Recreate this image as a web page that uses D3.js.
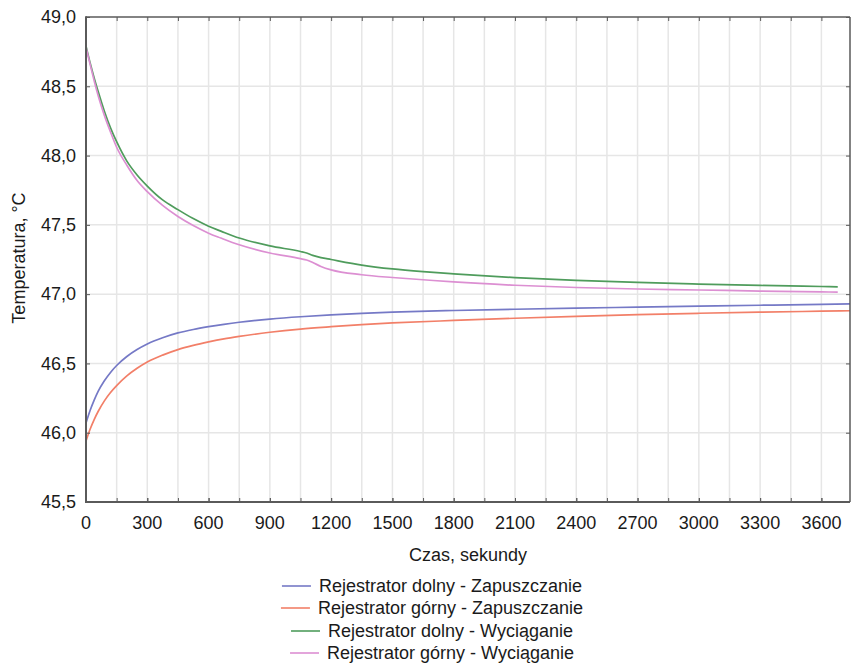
<!DOCTYPE html>
<html>
<head>
<meta charset="utf-8">
<script src="https://cdn.jsdelivr.net/npm/d3@7"></script>
<style>
  body { margin: 0; background: #fff; }
  text { font-family: "Liberation Sans", Arial, sans-serif; fill: #1a1a1a; }
</style>
</head>
<body>
<div id="chart"></div>
<script>
/* ---------- data ---------- */
const timeZap = [0, 20, 40, 60, 90, 120, 150, 200, 250, 300, 375, 450, 525, 600, 675, 750, 900, 1050, 1200, 1350, 1500, 1800, 2100, 2400, 2700, 3000, 3300, 3600, 3740];
const dolnyZap = [46.07, 46.16, 46.235, 46.30, 46.375, 46.435, 46.485, 46.55, 46.60, 46.64, 46.685, 46.72, 46.745, 46.765, 46.782, 46.797, 46.82, 46.837, 46.85, 46.861, 46.87, 46.882, 46.891, 46.899, 46.906, 46.913, 46.92, 46.926, 46.93];
const gornyZap = [45.94, 46.025, 46.095, 46.155, 46.23, 46.29, 46.34, 46.41, 46.465, 46.51, 46.56, 46.60, 46.63, 46.655, 46.677, 46.695, 46.725, 46.748, 46.765, 46.78, 46.792, 46.81, 46.826, 46.84, 46.852, 46.862, 46.87, 46.877, 46.88];

const timeWyc = [0, 20, 40, 60, 90, 120, 150, 200, 250, 300, 375, 450, 525, 600, 660, 750, 900, 1050, 1080, 1110, 1150, 1200, 1350, 1500, 1650, 1800, 2100, 2400, 2700, 3000, 3300, 3600, 3680];
const dolnyWyc = [48.79, 48.67, 48.56, 48.46, 48.32, 48.20, 48.10, 47.96, 47.86, 47.78, 47.68, 47.61, 47.545, 47.49, 47.455, 47.405, 47.348, 47.308, 47.297, 47.28, 47.264, 47.25, 47.21, 47.182, 47.162, 47.146, 47.119, 47.1, 47.085, 47.073, 47.063, 47.055, 47.053];
const gornyWyc = [48.78, 48.66, 48.54, 48.43, 48.29, 48.17, 48.06, 47.93, 47.82, 47.74, 47.64, 47.56, 47.495, 47.44, 47.405, 47.356, 47.297, 47.256, 47.246, 47.228, 47.2, 47.175, 47.14, 47.12, 47.104, 47.088, 47.064, 47.048, 47.037, 47.03, 47.022, 47.016, 47.015];

const xTickLabels = [0, 300, 600, 900, 1200, 1500, 1800, 2100, 2400, 2700, 3000, 3300, 3600];
const yTickLabels = [45.5, 46.0, 46.5, 47.0, 47.5, 48.0, 48.5, 49.0];

const seriesNames = [
  'Rejestrator dolny - Zapuszczanie',
  'Rejestrator górny - Zapuszczanie',
  'Rejestrator dolny - Wyciąganie',
  'Rejestrator górny - Wyciąganie',
];

/* ---------- config ---------- */
const W = 851, H = 664;
const M = { top: 17, right: 1, bottom: 162, left: 86 };
const colors = ['#7579c6', '#f27f68', '#4f9c5c', '#dc8fd2'];

const series = [
  { name: seriesNames[0], t: timeZap, v: dolnyZap, color: colors[0] },
  { name: seriesNames[1], t: timeZap, v: gornyZap, color: colors[1] },
  { name: seriesNames[2], t: timeWyc, v: dolnyWyc, color: colors[2] },
  { name: seriesNames[3], t: timeWyc, v: gornyWyc, color: colors[3] },
];

const svg = d3.select('#chart').append('svg').attr('width', W).attr('height', H);

const x = d3.scaleLinear().domain([0, 3740]).range([M.left, W - M.right]);
const y = d3.scaleLinear().domain([45.5, 49.0]).range([H - M.bottom, M.top]);

const fmt = (d) => d3.format('.1f')(d).replace('.', ',');

/* ---------- grid ---------- */
const gridX = d3.range(150, 3740, 150);
svg.append('g')
  .selectAll('line')
  .data(gridX)
  .join('line')
  .attr('x1', (d) => x(d)).attr('x2', (d) => x(d))
  .attr('y1', M.top).attr('y2', H - M.bottom)
  .attr('stroke', '#e6e6e6').attr('stroke-width', 1.5);

svg.append('g')
  .selectAll('line')
  .data(yTickLabels.slice(1, -1))
  .join('line')
  .attr('x1', M.left).attr('x2', W - M.right)
  .attr('y1', (d) => y(d)).attr('y2', (d) => y(d))
  .attr('stroke', '#e6e6e6').attr('stroke-width', 1.5);

/* ---------- series ---------- */
const line = d3.line().curve(d3.curveMonotoneX);
series.forEach((s) => {
  svg.append('path')
    .datum(s.t.map((t, i) => [x(t), y(s.v[i])]))
    .attr('d', line)
    .attr('fill', 'none')
    .attr('stroke', s.color)
    .attr('stroke-width', 1.7);
});

/* ---------- axes / frame ---------- */
const frameColor = '#5a5a5a';
const xAxis = d3.axisBottom(x).tickValues(gridX.concat(xTickLabels)).tickSize(-4).tickFormat('');
svg.append('g').attr('transform', `translate(0,${H - M.bottom})`).call(xAxis)
  .call((g) => g.selectAll('line').attr('stroke', frameColor))
  .call((g) => g.select('.domain').remove());
const xAxisTop = d3.axisTop(x).tickValues(gridX).tickSize(-4).tickFormat('');
svg.append('g').attr('transform', `translate(0,${M.top})`).call(xAxisTop)
  .call((g) => g.selectAll('line').attr('stroke', frameColor))
  .call((g) => g.select('.domain').remove());

const yAxis = d3.axisLeft(y).tickValues(yTickLabels).tickSize(-4).tickFormat('');
svg.append('g').attr('transform', `translate(${M.left},0)`).call(yAxis)
  .call((g) => g.selectAll('line').attr('stroke', frameColor))
  .call((g) => g.select('.domain').remove());
const yAxisR = d3.axisRight(y).tickValues(yTickLabels).tickSize(-4).tickFormat('');
svg.append('g').attr('transform', `translate(${W - M.right},0)`).call(yAxisR)
  .call((g) => g.selectAll('line').attr('stroke', frameColor))
  .call((g) => g.select('.domain').remove());

svg.append('line').attr('x1', M.left).attr('x2', W - M.right).attr('y1', M.top).attr('y2', M.top)
  .attr('stroke', frameColor).attr('stroke-width', 1.5);
svg.append('line').attr('x1', W - M.right).attr('x2', W - M.right).attr('y1', M.top).attr('y2', H - M.bottom)
  .attr('stroke', frameColor).attr('stroke-width', 1.5);
svg.append('line').attr('x1', M.left).attr('x2', M.left).attr('y1', M.top - 0.75).attr('y2', H - M.bottom + 1)
  .attr('stroke', frameColor).attr('stroke-width', 2);
svg.append('line').attr('x1', M.left - 1).attr('x2', W - M.right).attr('y1', H - M.bottom).attr('y2', H - M.bottom)
  .attr('stroke', frameColor).attr('stroke-width', 2);

/* ---------- tick labels ---------- */
svg.append('g')
  .selectAll('text')
  .data(yTickLabels)
  .join('text')
  .attr('x', 76)
  .attr('y', (d) => y(d))
  .attr('dy', '0.35em')
  .attr('text-anchor', 'end')
  .attr('font-size', 18)
  .text(fmt);

svg.append('g')
  .selectAll('text')
  .data(xTickLabels)
  .join('text')
  .attr('x', (d) => x(d))
  .attr('y', 529)
  .attr('text-anchor', 'middle')
  .attr('font-size', 18)
  .text((d) => d);

/* ---------- titles ---------- */
svg.append('text')
  .attr('x', 468).attr('y', 561)
  .attr('text-anchor', 'middle').attr('font-size', 18)
  .text('Czas, sekundy');

svg.append('text')
  .attr('transform', 'translate(25,258) rotate(-90)')
  .attr('text-anchor', 'middle').attr('font-size', 18)
  .text('Temperatura, °C');

/* ---------- legend ---------- */
const legendY = [586, 608, 631, 653];
const legend = svg.append('g');
series.forEach((s, i) => {
  const g = legend.append('g');
  const txt = g.append('text')
    .attr('y', legendY[i]).attr('dy', '0.35em')
    .attr('font-size', 18)
    .text(s.name);
  const tw = txt.node().getComputedTextLength();
  const total = 29 + 8 + tw;
  const x0 = 432 - total / 2;
  g.append('line')
    .attr('x1', x0).attr('x2', x0 + 29)
    .attr('y1', legendY[i]).attr('y2', legendY[i])
    .attr('stroke', s.color).attr('stroke-width', 1.6);
  txt.attr('x', x0 + 37);
});
</script>
</body>
</html>
